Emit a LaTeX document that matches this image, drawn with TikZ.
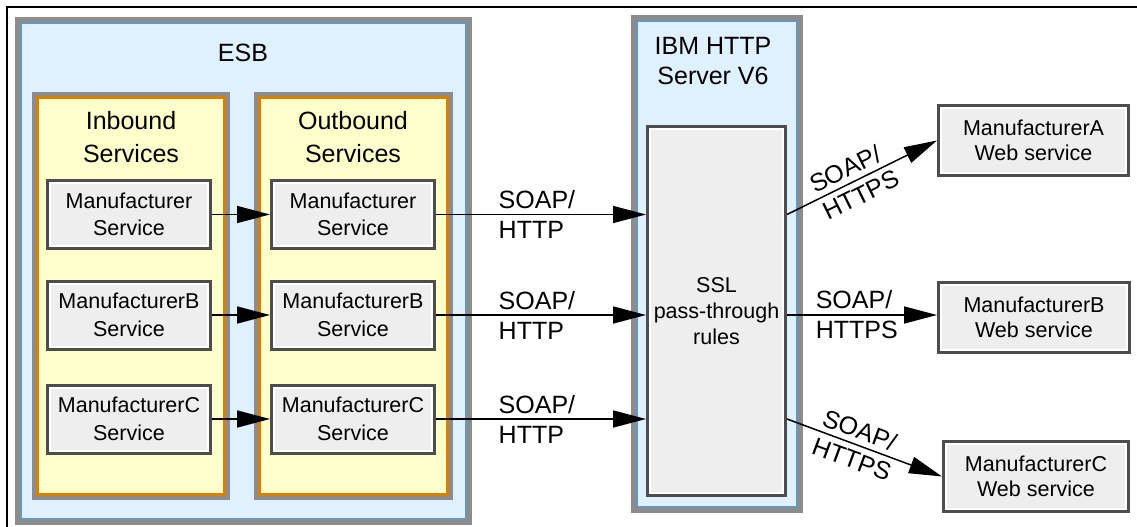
\documentclass[tikz,border=0pt]{standalone}
\usepackage{fontspec}
\setmainfont{Liberation Sans}
\usepackage{tikz}
\usetikzlibrary{arrows.meta,positioning}
\definecolor{boxgray}{RGB}{140,140,140}
\definecolor{esbline}{RGB}{104,150,188}
\definecolor{esbfill}{RGB}{223,240,255}
\definecolor{grporange}{RGB}{217,128,0}
\definecolor{grpyellow}{RGB}{255,255,204}
\definecolor{svcline}{RGB}{77,77,77}
\definecolor{svcfill}{RGB}{238,238,238}

\tikzset{
  inset/.style={path picture={\draw[#1] (path picture bounding box.south west) rectangle (path picture bounding box.north east);}},
  esbbox/.style={draw=boxgray, line width=5, fill=esbfill, inner sep=0, inset={esbline, line width=9}},
  grpbox/.style={draw=boxgray, line width=4, fill=grpyellow, inner sep=0, inset={grporange, line width=10}},
  svcbox/.style={draw=svcline, line width=3, fill=svcfill, inner sep=0, align=center, inset={white, line width=7}},
  title/.style={font=\fontsize{25}{33}\selectfont, align=center, inner sep=0},
  proto/.style={font=\fontsize{25}{30}\selectfont, align=left, inner sep=0, anchor=west},
  flow/.style={-{Triangle[length=33pt,width=17pt]}, line width=1.5}
}

\begin{document}
\begin{tikzpicture}[x=1pt, y=-1pt]
  \useasboundingbox (0,0) rectangle (1137,527);
  % page frame
  \draw[line width=2] (7,527) -- (7,7) -- (1137,7);
  % ESB with inbound and outbound groups
  \node[esbbox, minimum width=452, minimum height=503] (esb) at (243.5,271) {};
  \node[title] (esbtitle) at (243,52.5) {ESB};
  \node[grpbox, minimum width=194, minimum height=404] (inb) at (131,296) {};
  \node[grpbox, minimum width=195, minimum height=404] (outb) at (353.5,296) {};
  \node[title] (inbtitle) at (131,137) {Inbound\\Services};
  \node[title] (outbtitle) at (353,137) {Outbound\\Services};
  \begin{scope}[every node/.append style={svcbox, minimum width=163, minimum height=68, font=\fontsize{21.5}{27.5}\selectfont}]
    \node (in1) at (129,214.5) {Manufacturer\\Service};
    \node (in2) at (129,315) {ManufacturerB\\Service};
    \node (in3) at (129,419) {ManufacturerC\\Service};
    \node (out1) at (353,214.5) {Manufacturer\\Service};
    \node (out2) at (353,315) {ManufacturerB\\Service};
    \node (out3) at (353,419) {ManufacturerC\\Service};
  \end{scope}
  % HTTP server
  \node[esbbox, minimum width=167, minimum height=493] (ibm) at (717,264) {};
  \node[title, font=\fontsize{25}{30.5}\selectfont] (ibmtitle) at (713,61) {IBM HTTP\\Server V6};
  \node[svcbox, minimum width=138, minimum height=369, font=\fontsize{21.5}{26}\selectfont] (ssl) at (716.5,311) {SSL\\pass-through\\rules};
  % manufacturer web services
  \begin{scope}[every node/.append style={svcbox, minimum height=70, font=\fontsize{21.5}{25}\selectfont}]
    \node[minimum width=190] (mfa) at (1033.5,140.5) {ManufacturerA\\Web service};
    \node[minimum width=191] (mfb) at (1034,317) {ManufacturerB\\Web service};
    \node[minimum width=185] (mfc) at (1036,476.5) {ManufacturerC\\Web service};
  \end{scope}
  % connectors
  \foreach \r in {1,2,3} {
    \draw[flow] (in\r.east) -- (out\r.west);
    \draw[flow] (out\r.east) -- node[proto, pos=0.295] {SOAP/\\HTTP} (ssl.west |- out\r.east);
  }
  \draw[flow] (ssl.east |- out1.east) -- node[proto, sloped, pos=0.2] {SOAP/\\HTTPS} (mfa.west);
  \draw[flow] (ssl.east |- out2.east) -- node[proto, pos=0.187] {SOAP/\\HTTPS} (mfb.west |- out2.east);
  \draw[flow] (ssl.east |- out3.east) -- node[proto, sloped, pos=0.2] {SOAP/\\HTTPS} (mfc.west);
\end{tikzpicture}
\end{document}
